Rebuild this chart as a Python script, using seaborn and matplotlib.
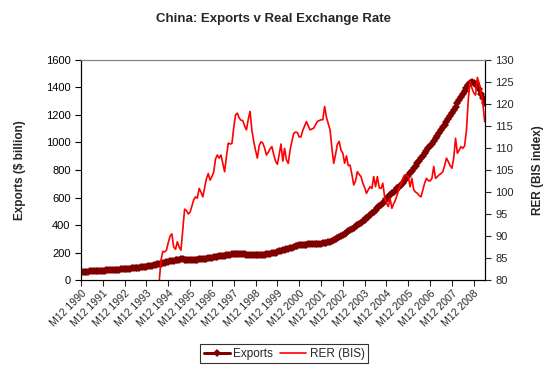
import numpy as np
import pandas as pd
import seaborn as sns
import matplotlib.pyplot as plt

# monthly data, month 0 = M12 1990
exports = [
    60, 61, 61, 62, 62, 63, 63, 64, 65, 66, 66, 67,
    68, 69, 70, 71, 72, 73, 74, 75, 76, 77, 78, 79,
    80, 81, 82, 84, 85, 86, 88, 89, 91, 92, 94, 95,
    97, 100, 103, 106, 109, 111, 114, 117, 120, 124, 127, 130,
    133, 136, 139, 142, 145, 147, 149, 150, 150, 149, 148, 146,
    145, 145, 146, 147, 148, 150, 151, 153, 155, 156, 158, 160,
    162, 165, 168, 170, 172, 174, 175, 177, 179, 182, 185, 187,
    189, 189, 190, 190, 189, 188, 187, 186, 185, 184, 183, 182,
    182, 182, 183, 184, 185, 186, 188, 190, 192, 194, 197, 200,
    204, 208, 212, 216, 220, 224, 227, 230, 235, 240, 245, 250,
    253, 255, 256, 257, 258, 259, 259, 260, 260, 261, 262, 264,
    266, 268, 270, 272, 275, 280, 285, 291, 297, 303, 310, 318,
    327, 336, 345, 354, 364, 373, 382, 391, 400, 409, 418, 427,
    436, 448, 460, 472, 484, 496, 508, 521, 535, 549, 563, 577,
    592, 606, 618, 630, 642, 654, 666, 678, 690, 707, 724, 741,
    758, 776, 795, 813, 832, 850, 868, 886, 904, 922, 940, 957,
    974, 992, 1010, 1030, 1050, 1070, 1090, 1110, 1130, 1150, 1172, 1194,
    1215, 1238, 1261, 1284, 1307, 1330, 1352, 1375, 1397, 1420, 1432, 1442,
    1435, 1425, 1410, 1385, 1355, 1320, 1290,
]

rer_start = 42  # month index of first RER value
rer = [
    76.0, 79.5, 84.5, 86.5, 86.4, 86.8,
    88.5, 90.0, 90.5, 87.5, 87.0, 88.7, 87.5, 86.8, 91.5, 96.1, 95.8, 95.0,
    95.4, 96.8, 98.2, 98.9, 98.6, 100.8, 100.0, 98.9, 101.0, 103.0, 104.2, 102.7,
    103.5, 104.5, 107.5, 108.4, 107.7, 108.4, 106.5, 104.6, 108.0, 111.1, 110.9, 111.0,
    114.5, 117.5, 117.9, 116.8, 116.3, 116.2, 115.0, 114.1, 116.5, 118.3, 114.0, 111.5,
    109.5, 107.7, 110.5, 111.4, 111.1, 110.0, 108.4, 109.0, 109.8, 110.3, 108.5, 107.0,
    106.3, 108.5, 110.9, 107.0, 109.9, 107.3, 106.5, 109.5, 111.5, 113.3, 113.6, 113.5,
    112.5, 112.5, 114.0, 115.0, 116.0, 115.0, 114.1, 114.3, 114.5, 115.3, 116.0, 116.2,
    116.4, 116.4, 119.4, 117.0, 115.5, 114.1, 110.0, 106.5, 108.5, 110.8, 111.5, 109.5,
    108.8, 106.5, 108.2, 106.0, 106.1, 104.0, 101.6, 102.5, 104.6, 104.0, 103.5, 102.0,
    101.0, 99.7, 100.5, 101.2, 100.8, 103.5, 101.2, 103.5, 101.0, 100.8, 102.0, 98.9,
    97.5, 96.7, 98.5, 96.3, 97.4, 98.2, 99.5, 100.8, 102.0, 103.0, 103.9, 103.7,
    103.5, 101.2, 103.1, 100.5, 100.0, 99.7, 99.2, 98.9, 100.5, 102.0, 103.1, 102.6,
    102.5, 103.1, 105.8, 103.1, 103.5, 103.9, 104.2, 104.6, 106.0, 107.7, 106.9, 106.0,
    105.4, 107.7, 112.2, 108.8, 109.5, 110.3, 109.9, 110.5, 114.0, 121.0, 125.1, 123.6,
    122.5, 122.0, 126.0, 124.7, 122.4, 120.2, 116.0,
]

tick_labels = ["M12 %d" % y for y in range(1990, 2009)]

df_exp = pd.DataFrame({"month": np.arange(len(exports)), "value": exports})
df_rer = pd.DataFrame({"month": np.arange(rer_start, rer_start + len(rer)), "value": rer})

sns.set_style("white")
plt.rcParams["font.family"] = ["Liberation Sans", "DejaVu Sans"]

fig = plt.figure(figsize=(5.47, 3.74), dpi=100)
ax = fig.add_axes([0.148, 0.251, 0.738, 0.589])
ax2 = ax.twinx()

sns.lineplot(data=df_exp, x="month", y="value", ax=ax, color="#800000",
             marker="D", markersize=4, markeredgewidth=0, linewidth=2.2,
             label="Exports", legend=False)
sns.lineplot(data=df_rer, x="month", y="value", ax=ax2, color="#FF0000",
             linewidth=1.2, label="RER (BIS)", legend=False)

ax.set_xlim(0, len(exports) - 1)
ax.set_ylim(0, 1600)
ax.set_yticks(range(0, 1601, 200))
ax2.set_ylim(80, 130)
ax2.set_yticks(range(80, 131, 5))
ax.set_xticks(np.arange(0, 12 * len(tick_labels), 12))
ax.set_xticklabels(tick_labels, rotation=45, ha="right", rotation_mode="anchor", fontsize=7.5)

ax.tick_params(axis="y", labelsize=8, length=4, direction="out", left=True, width=0.8, colors="black")
ax.tick_params(axis="x", length=4, direction="out", bottom=True, width=0.8, pad=2)
ax2.tick_params(axis="y", labelsize=8, length=4, direction="out", right=True, width=0.8)

ax.set_xlabel("")
ax.set_ylabel("Exports ($ billion)", fontsize=8.5, fontweight="bold", labelpad=14)
ax2.set_ylabel("RER (BIS index)", fontsize=8.5, fontweight="bold", labelpad=13)

for a in (ax, ax2):
    for s in ("left", "bottom", "right"):
        a.spines[s].set_color("black")
        a.spines[s].set_linewidth(0.8)
    a.spines["top"].set_color("#808080")
    a.spines["top"].set_linewidth(0.8)

fig.suptitle("China: Exports v Real Exchange Rate", fontsize=9.5, fontweight="bold", y=0.965)

h1, l1 = ax.get_legend_handles_labels()
h2, l2 = ax2.get_legend_handles_labels()
leg = fig.legend(h1 + h2, l1 + l2, loc="center", bbox_to_anchor=(0.52, 0.054), ncol=2,
                 frameon=True, fancybox=False, fontsize=8.5, handlelength=2.2,
                 handletextpad=0.3, columnspacing=0.6, borderpad=0.3)
leg.get_frame().set_edgecolor("black")
leg.get_frame().set_linewidth(0.8)

fig.savefig("out.png", dpi=100)
